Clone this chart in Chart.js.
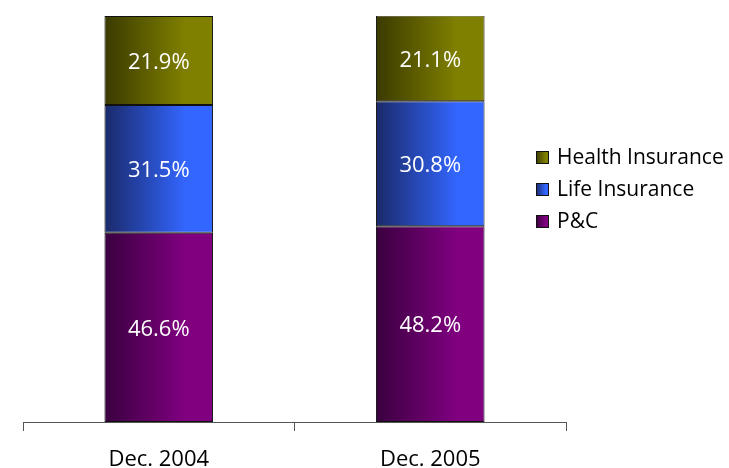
<!DOCTYPE html>
<html>
<head>
<meta charset="utf-8">
<script src="https://cdn.jsdelivr.net/npm/chart.js@4"></script>
<style>
  body { margin: 0; background: #fff; }
</style>
</head>
<body>
<canvas id="c" width="729" height="468"></canvas>
<script>
const categories = ["Dec. 2004", "Dec. 2005"];
const pcValues = [46.6, 48.2];
const lifeValues = [31.5, 30.8];
const healthValues = [21.9, 21.1];

const FONT = "'Open Sans', 'DejaVu Sans', sans-serif";

// dark edge -> bright edge of each series
const shades = {
    "P&C": ["#3a0040", "#800080"],
    "Life Insurance": ["#1a2a6a", "#3366ff"],
    "Health Insurance": ["#3a3a00", "#808000"]
};

function barGradient(ctx, left, right, pair) {
    var g = ctx.createLinearGradient(left, 0, right, 0);
    g.addColorStop(0, pair[0]);
    g.addColorStop(0.75, pair[1]);
    g.addColorStop(1, pair[1]);
    return g;
}

function fillFor(name) {
    return function (context) {
        var chart = context.chart;
        var x = chart.scales.x;
        if (!chart.chartArea || !x) return shades[name][1];
        var w = x.width / categories.length * 0.4;
        var cx = x.getPixelForValue(context.dataIndex);
        return barGradient(chart.ctx, cx - w / 2, cx + w / 2, shades[name]);
    };
}

var valueLabels = {
    id: "valueLabels",
    afterDatasetsDraw: function (chart) {
        var ctx = chart.ctx;
        ctx.save();
        ctx.font = "22px " + FONT;
        ctx.fillStyle = "#fff";
        ctx.textAlign = "center";
        ctx.textBaseline = "middle";
        chart.data.datasets.forEach(function (ds, i) {
            chart.getDatasetMeta(i).data.forEach(function (bar, j) {
                var p = bar.getProps(["x", "y", "base"], true);
                ctx.fillText(ds.data[j].toFixed(1) + "%", p.x, (p.y + p.base) / 2 + 2);
            });
        });
        ctx.restore();
    }
};

var sideLegend = {
    id: "sideLegend",
    afterDraw: function (chart) {
        var ctx = chart.ctx;
        var items = chart.data.datasets.slice().reverse();
        ctx.save();
        ctx.font = "21px " + FONT;
        ctx.textBaseline = "middle";
        items.forEach(function (ds, i) {
            var y = 157 + i * 32;
            ctx.fillStyle = barGradient(ctx, 536, 549, shades[ds.label]);
            ctx.fillRect(536, y - 6, 13, 13);
            ctx.strokeStyle = "#111";
            ctx.lineWidth = 1;
            ctx.strokeRect(536.5, y - 5.5, 12, 12);
            ctx.fillStyle = "#000";
            ctx.fillText(ds.label, 557, y + 1);
        });
        ctx.restore();
    }
};

new Chart(document.getElementById("c"), {
    type: "bar",
    data: {
        labels: categories,
        datasets: [
            { label: "P&C", data: pcValues, backgroundColor: fillFor("P&C") },
            { label: "Life Insurance", data: lifeValues, backgroundColor: fillFor("Life Insurance") },
            { label: "Health Insurance", data: healthValues, backgroundColor: fillFor("Health Insurance") }
        ]
    },
    plugins: [valueLabels, sideLegend],
    options: {
        responsive: false,
        animation: false,
        layout: { padding: { left: 23, right: 163, top: 16, bottom: -21 } },
        datasets: {
            bar: {
                barPercentage: 0.4,
                categoryPercentage: 1,
                borderWidth: 1,
                borderColor: "#111",
                borderSkipped: false
            }
        },
        scales: {
            x: {
                stacked: true,
                offset: true,
                grid: {
                    offset: true,
                    drawOnChartArea: false,
                    drawTicks: true,
                    tickLength: 9,
                    color: "#555"
                },
                border: { display: true, color: "#555", width: 1 },
                ticks: {
                    color: "#000",
                    padding: 18,
                    font: { family: FONT, size: 22, lineHeight: 1 }
                }
            },
            y: {
                stacked: true,
                display: false,
                min: 0,
                max: 100
            }
        },
        plugins: {
            legend: { display: false },
            tooltip: { enabled: false }
        }
    }
});
</script>
</body>
</html>
